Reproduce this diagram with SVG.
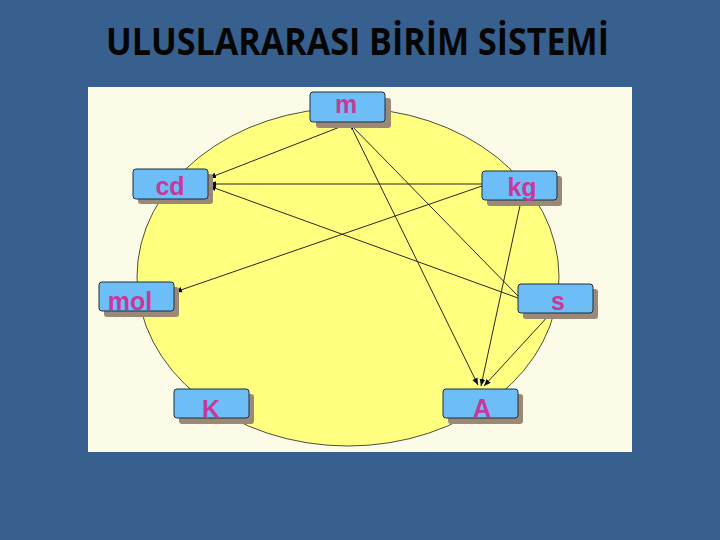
<svg xmlns="http://www.w3.org/2000/svg" width="720" height="540" viewBox="0 0 720 540">
<defs>
<style>
.title{font-family:"Open Sans","Liberation Sans",sans-serif;font-weight:bold;font-size:37px;fill:#050505}
.box{fill:#6DBEF6;stroke:#1E2E3E;stroke-width:1}
.shadow{fill:#9B8876}
.lbl{font-family:"Liberation Sans",Arial,sans-serif;font-weight:bold;font-size:25px;fill:#C8389A;text-anchor:middle}
.edge{stroke:#111;stroke-width:0.9;fill:none;marker-end:url(#arr)}
</style>
<marker id="arr" viewBox="0 0 10 10" refX="10" refY="5" markerWidth="7" markerHeight="7" markerUnits="userSpaceOnUse" orient="auto">
<path d="M0,1 L10,5 L0,9 z" fill="#0A0A30"/>
</marker>
</defs>
<rect width="720" height="540" fill="#37608F"/>
<text class="title" x="106" y="55" textLength="503" lengthAdjust="spacingAndGlyphs">ULUSLARARASI BİRİM SİSTEMİ</text>
<rect x="88" y="87" width="544" height="365" fill="#FCFBE7"/>
<ellipse cx="348" cy="277" rx="211" ry="169" fill="#FFFF80" stroke="#222" stroke-width="0.8"/>
<g id="connectors">
<line class="edge" x1="345" y1="125" x2="209" y2="178"/>
<line class="edge" x1="482" y1="184" x2="209" y2="184"/>
<line class="edge" x1="518" y1="298" x2="209" y2="186"/>
<line class="edge" x1="482" y1="186" x2="175" y2="292"/>
<line class="edge" x1="350" y1="124" x2="478" y2="385"/>
<line class="edge" x1="518" y1="296" x2="349" y2="123"/>
<line class="edge" x1="521" y1="201" x2="481" y2="386"/>
<line class="edge" x1="551" y1="313" x2="484" y2="386"/>
</g>
<g id="m"><rect class="shadow" x="316" y="98" width="75" height="30" rx="3"/><rect class="box" x="310" y="92" width="75" height="30" rx="3"/><text class="lbl" x="346" y="113">m</text></g>
<g id="cd"><rect class="shadow" x="138" y="174" width="75" height="30" rx="3"/><rect class="box" x="133" y="169" width="75" height="30" rx="3"/><text class="lbl" x="170" y="195">cd</text></g>
<g id="kg"><rect class="shadow" x="487" y="176" width="75" height="30" rx="3"/><rect class="box" x="482" y="171" width="75" height="29" rx="3"/><text class="lbl" x="522" y="196">kg</text></g>
<g id="mol"><rect class="shadow" x="104" y="287" width="75" height="30" rx="3"/><rect class="box" x="99" y="282" width="75" height="29" rx="3"/><text class="lbl" x="130" y="310">mol</text></g>
<g id="s"><rect class="shadow" x="523" y="289" width="75" height="30" rx="3"/><rect class="box" x="518" y="284" width="75" height="29" rx="3"/><text class="lbl" x="558" y="310">s</text></g>
<g id="K"><rect class="shadow" x="179" y="394" width="75" height="30" rx="3"/><rect class="box" x="174" y="389" width="75" height="29" rx="3"/><text class="lbl" x="211" y="418">K</text></g>
<g id="A"><rect class="shadow" x="448" y="394" width="75" height="30" rx="3"/><rect class="box" x="443" y="389" width="75" height="29" rx="3"/><text class="lbl" x="482" y="417">A</text></g>
</svg>
